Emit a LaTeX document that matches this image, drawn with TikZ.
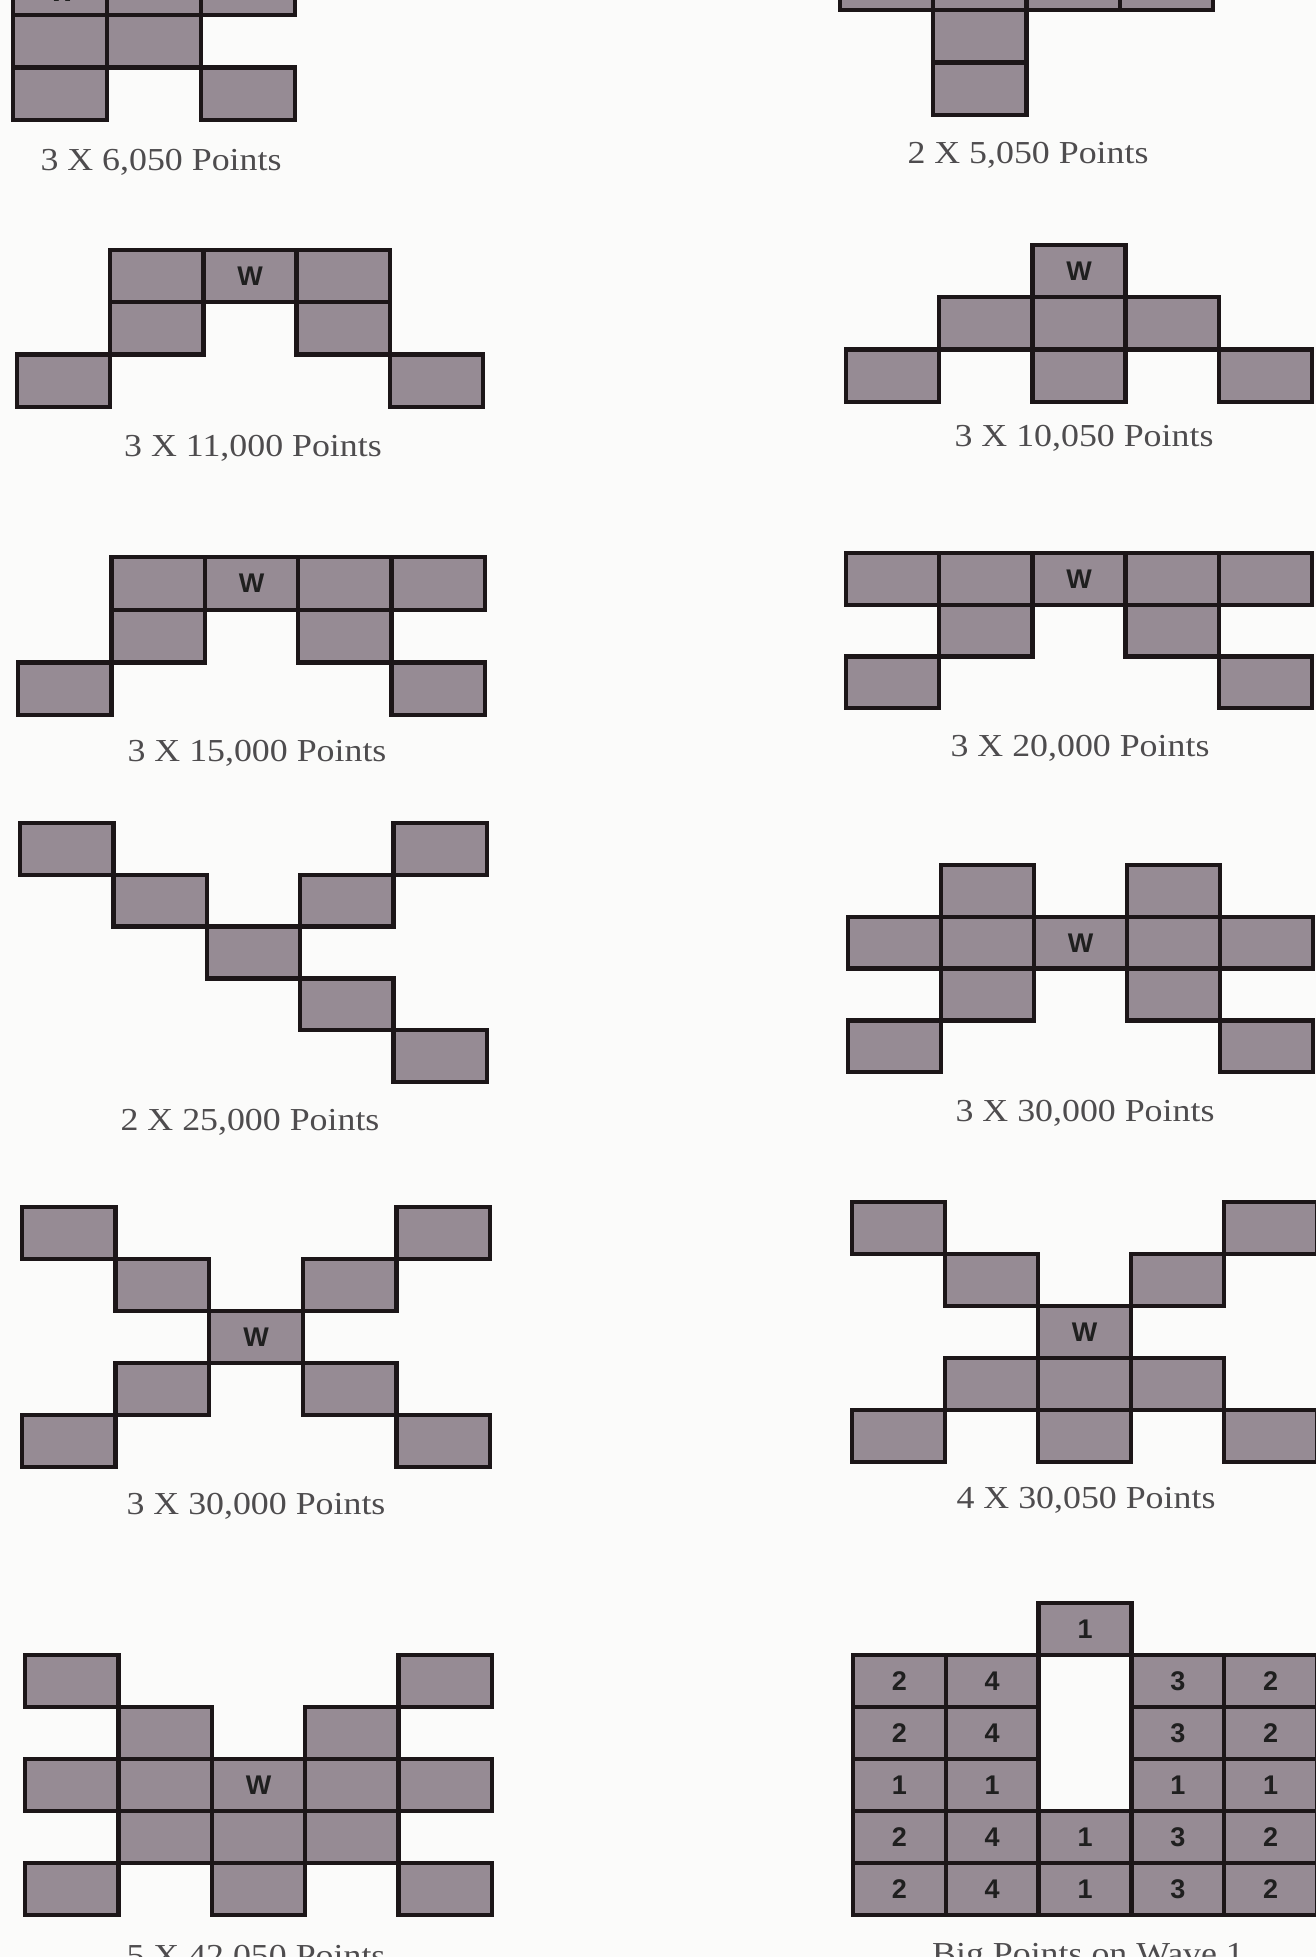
\documentclass[tikz,border=0pt]{standalone}
\usepackage{fontspec}
\setmainfont{Liberation Serif}
\newfontfamily\labfont{Liberation Sans}
\definecolor{cellfill}{RGB}{150,139,148}
\definecolor{captext}{RGB}{78,76,78}
\definecolor{bgcol}{RGB}{251,251,250}
\definecolor{edgecol}{RGB}{28,22,24}
\tikzset{
  cellbox/.style={fill=cellfill, draw=edgecol, line width=4.3pt, line join=miter},
  wlab/.style={font=\labfont\bfseries\fontsize{27}{27}\selectfont, text=black!88, inner sep=0pt},
  caption/.style={font=\fontsize{32}{32}\selectfont, text=captext, inner sep=0pt, xscale=1.12}
}
% #1 x0, #2 y0, #3 cell width, #4 cell height, #5 list of col/row
\newcommand\patcells[5]{%
  \foreach \c/\r in {#5}{%
    \draw[cellbox] ({#1+\c*#3},{#2+\r*#4}) rectangle ++(#3,#4);
  }}
% W label: #1 x0, #2 y0, #3 cw, #4 ch, #5 col, #6 row, #7 name
\newcommand\wcell[7]{%
  \node[wlab] (#7) at ({#1+(#5+0.5)*#3},{#2+(#6+0.5)*#4}) {W};}
\begin{document}
\begin{tikzpicture}[x=1pt,y=-1pt]
\clip (0,0) rectangle (1316,1957);
\fill[bgcol] (0,0) rectangle (1316,1957);

% P1 (top left, cut)
\patcells{13}{-37.5}{94}{52.5}{0/0,1/0,2/0,0/1,1/1,0/2,2/2}
\node[wlab] (w1) at (62,-8) {W};
\node[caption] (cap1) at (161,162) {3 X 6,050 Points};

% P2 (top right, cut)
\patcells{840}{-42.5}{93.25}{52.5}{0/0,1/0,2/0,3/0,1/1,1/2}
\node[caption] (cap2) at (1028,155) {2 X 5,050 Points};

% P3
\patcells{17}{250}{93.2}{52.3}{1/0,2/0,3/0,1/1,3/1,0/2,4/2}
\wcell{17}{250}{93.2}{52.3}{2}{0}{w3}
\node[caption] (cap3) at (253,448) {3 X 11,000 Points};

% P4
\patcells{846}{245}{93.2}{52.3}{2/0,1/1,2/1,3/1,0/2,2/2,4/2}
\wcell{846}{245}{93.2}{52.3}{2}{0}{w4}
\node[caption] (cap4) at (1084,438) {3 X 10,050 Points};

% P5
\patcells{18}{557}{93.4}{52.7}{1/0,2/0,3/0,4/0,1/1,3/1,0/2,4/2}
\wcell{18}{557}{93.4}{52.7}{2}{0}{w5}
\node[caption] (cap5) at (257,753) {3 X 15,000 Points};

% P6
\patcells{846}{553}{93.2}{51.7}{0/0,1/0,2/0,3/0,4/0,1/1,3/1,0/2,4/2}
\wcell{846}{553}{93.2}{51.7}{2}{0}{w6}
\node[caption] (cap6) at (1080,748) {3 X 20,000 Points};

% P7
\patcells{20}{823}{93.4}{51.8}{0/0,4/0,1/1,3/1,2/2,3/3,4/4}
\node[caption] (cap7) at (250,1122) {2 X 25,000 Points};

% P8
\patcells{848}{865}{93}{51.8}{1/0,3/0,0/1,1/1,2/1,3/1,4/1,1/2,3/2,0/3,4/3}
\wcell{848}{865}{93}{51.8}{2}{1}{w8}
\node[caption] (cap8) at (1085,1113) {3 X 30,000 Points};

% P9
\patcells{22}{1207}{93.6}{52}{0/0,4/0,1/1,3/1,2/2,1/3,3/3,0/4,4/4}
\wcell{22}{1207}{93.6}{52}{2}{2}{w9}
\node[caption] (cap9) at (256,1506) {3 X 30,000 Points};

% P10
\patcells{852}{1202}{93}{52}{0/0,4/0,1/1,3/1,2/2,1/3,2/3,3/3,0/4,2/4,4/4}
\wcell{852}{1202}{93}{52}{2}{2}{w10}
\node[caption] (cap10) at (1086,1500) {4 X 30,050 Points};

% P11
\patcells{25}{1655}{93.4}{52}{0/0,4/0,1/1,3/1,0/2,1/2,2/2,3/2,4/2,1/3,2/3,3/3,0/4,2/4,4/4}
\wcell{25}{1655}{93.4}{52}{2}{2}{w11}
\node[caption] (cap11) at (256,1958) {5 X 42,050 Points};

% P12 (Big Points)
\foreach \c/\r/\t in {2/0/1,
  0/1/2,1/1/4,3/1/3,4/1/2,
  0/2/2,1/2/4,3/2/3,4/2/2,
  0/3/1,1/3/1,3/3/1,4/3/1,
  0/4/2,1/4/4,2/4/1,3/4/3,4/4/2,
  0/5/2,1/5/4,2/5/1,3/5/3,4/5/2}{%
  \draw[cellbox] ({853+\c*92.8},{1603+\r*52}) rectangle ++(92.8,52);
  \node[wlab] (n\c\r) at ({853+(\c+0.5)*92.8},{1603+(\r+0.5)*52}) {\t};
}
\node[caption] (cap12) at (1088,1957) {Big Points on Wave 1};
\end{tikzpicture}
\end{document}
